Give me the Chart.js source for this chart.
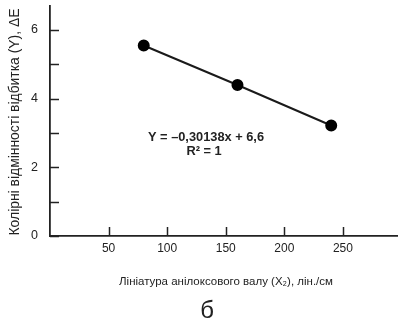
<!DOCTYPE html>
<html><head><meta charset="utf-8">
<script src="https://cdn.jsdelivr.net/npm/chart.js@4"></script>
<style>html,body{margin:0;padding:0;background:#fff}#w{width:398px;height:322px}</style>
</head><body><div id="w"><canvas id="c" width="398" height="322"></canvas></div>
<script>
const xValues = [80, 160, 240];
const yValues = [5.55, 4.4, 3.22];
const xTickValues = [50, 100, 150, 200, 250];
const yTickValues = [0, 1, 2, 3, 4, 5, 6];
const yLabelled = [0, 2, 4, 6];
const xTitle = 'Лініатура анілоксового валу (X₂), лін./см';
const yTitle = 'Колірні відмінності відбитка (Y), ΔE';
const eqLine1 = 'Y = –0,30138x + 6,6';
const eqLine2 = 'R² = 1';
const panelLabel = 'б';

const NARROW = "'Liberation Sans Narrow', 'Arial Narrow', 'Liberation Sans', sans-serif";
const SANS = "'Liberation Sans', Arial, sans-serif";

const deco = {
  id: 'deco',
  afterDraw(chart) {
    const ctx = chart.ctx;
    const xs = chart.scales.x, ys = chart.scales.y;
    ctx.save();
    ctx.strokeStyle = '#222';
    ctx.lineWidth = 1.5;
    xTickValues.forEach(v => {
      const px = Math.round(xs.getPixelForValue(v)) + 0.5;
      ctx.beginPath(); ctx.moveTo(px, ys.bottom); ctx.lineTo(px, ys.bottom - 9); ctx.stroke();
    });
    yTickValues.forEach(v => {
      const py = Math.round(ys.getPixelForValue(v)) + 0.5;
      ctx.beginPath(); ctx.moveTo(xs.left, py); ctx.lineTo(xs.left + 9, py); ctx.stroke();
    });
    ctx.fillStyle = '#222';
    ctx.font = 'bold 12.8px ' + NARROW;
    ctx.textAlign = 'center'; ctx.textBaseline = 'middle';
    ctx.fillText(eqLine1, 206, 137);
    ctx.fillText(eqLine2, 204, 151);
    ctx.font = '11.5px ' + NARROW;
    ctx.fillText(xTitle, 226, 282);
    ctx.save();
    ctx.translate(15, 122);
    ctx.rotate(-Math.PI / 2);
    ctx.font = '13.9px ' + SANS;
    ctx.fillText(yTitle, 0, 0);
    ctx.restore();
    ctx.font = '24px ' + SANS;
    ctx.fillText(panelLabel, 207, 311);
    ctx.restore();
  }
};

function noPad(s) { s.paddingLeft = 0; s.paddingRight = 0; s.paddingTop = 0; s.paddingBottom = 0; }

new Chart(document.getElementById('c'), {
  type: 'scatter',
  data: {
    datasets: [{
      data: xValues.map((x, i) => ({x, y: yValues[i]})),
      showLine: true,
      borderColor: '#1a1a1a',
      borderWidth: 2,
      backgroundColor: '#000',
      pointBackgroundColor: '#000',
      pointBorderColor: '#000',
      pointRadius: 5,
      pointHoverRadius: 5
    }]
  },
  options: {
    responsive: false,
    animation: false,
    events: [],
    layout: { autoPadding: false, padding: { top: 6, right: 0, left: 0, bottom: 0 } },
    plugins: { legend: { display: false }, tooltip: { enabled: false } },
    scales: {
      x: {
        type: 'linear', min: 0, max: 297,
        afterBuildTicks(s) { s.ticks = xTickValues.map(v => ({value: v})); },
        afterFit(s) { s.height = 86; noPad(s); },
        grid: { display: true, drawOnChartArea: false, drawTicks: false, color: 'transparent' },
        border: { display: true, color: '#222', width: 1.8 },
        ticks: { color: '#222', font: { family: NARROW, size: 12 }, padding: 5, maxRotation: 0, autoSkip: false,
                 callback: v => String(v) }
      },
      y: {
        type: 'linear', min: 0, max: 6.7,
        afterBuildTicks(s) { s.ticks = yTickValues.map(v => ({value: v})); },
        afterFit(s) { s.width = 50; noPad(s); },
        grid: { display: true, drawOnChartArea: false, drawTicks: false, color: 'transparent' },
        border: { display: true, color: '#222', width: 1.8 },
        ticks: { color: '#222', font: { family: NARROW, size: 12.5 }, padding: 12, autoSkip: false,
                 callback: v => yLabelled.includes(v) ? String(v) : '' }
      }
    }
  },
  plugins: [deco]
});
</script></body></html>
